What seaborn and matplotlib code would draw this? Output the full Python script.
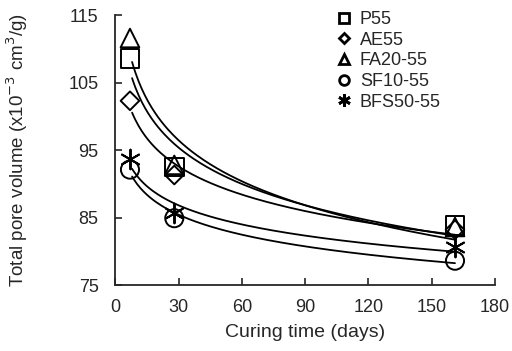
import numpy as np
import pandas as pd
import matplotlib
matplotlib.use("Agg")
import matplotlib.pyplot as plt
import seaborn as sns
from matplotlib.lines import Line2D

days = [7, 28, 161]
series = ["P55", "AE55", "FA20-55", "SF10-55", "BFS50-55"]
p55 = [108.6, 92.5, 83.8]
ae55 = [102.3, 91.3, 83.2]
fa20 = [111.6, 92.8, 83.6]
sf10 = [92.1, 84.9, 78.6]
bfs50 = [93.6, 85.6, 80.6]
values = [p55, ae55, fa20, sf10, bfs50]
markers = ["s", "D", "^", "o", (6, 2, 0)]
sizes = [180, 90, 180, 170, 200]
xticks = [0, 30, 60, 90, 120, 150, 180]
yticks = [75, 85, 95, 105, 115]

sns.set_style("ticks")
plt.rcParams["font.family"] = ["Liberation Sans", "DejaVu Sans"]

fig = plt.figure(figsize=(5.12, 3.51), dpi=100)
ax = fig.add_axes([0.225, 0.188, 0.742, 0.769])

handles = []
for name, vals, m, s in zip(series, values, markers, sizes):
    df = pd.DataFrame({"day": days, "v": vals})
    # logarithmic fit through the data
    b, a = np.polyfit(np.log(df["day"]), df["v"], 1)
    xs = np.linspace(days[0] + 1, days[-1], 200)
    fit = pd.DataFrame({"day": xs, "v": a + b * np.log(xs)})
    sns.lineplot(data=fit, x="day", y="v", ax=ax, color="black", lw=1.3)
    if isinstance(m, tuple):
        sns.scatterplot(data=df, x="day", y="v", ax=ax, marker=m, s=s,
                        color="black", linewidth=1.4, zorder=3)
        handles.append(Line2D([], [], marker=m, color="black", ls="none",
                              markersize=9, markeredgewidth=2, label=name))
    else:
        sns.scatterplot(data=df, x="day", y="v", ax=ax, marker=m, s=s,
                        facecolor="none", edgecolor="black", linewidth=1.4, zorder=3)
        handles.append(Line2D([], [], marker=m, color="black", ls="none",
                              markerfacecolor="none", markersize=7 if m != "D" else 5.5,
                              markeredgewidth=2, label=name))

ax.set_xlim(0, 180)
ax.set_ylim(75, 115)
ax.set_xticks(xticks)
ax.set_yticks(yticks)
ax.tick_params(direction="in", length=5, width=1.2, labelsize=13)
ax.tick_params(axis="x", pad=10)
ax.tick_params(axis="y", pad=12)
sns.despine(ax=ax)
for sp in ["left", "bottom"]:
    ax.spines[sp].set_linewidth(1.3)
ax.set_xlabel("Curing time (days)", fontsize=14, labelpad=6)
ax.set_ylabel("Total pore volume (x10$^{-3}$ cm$^3$/g)", fontsize=13.5, labelpad=28)
ax.legend(handles=handles, loc="upper left", bbox_to_anchor=(0.53, 1.075),
          frameon=False, fontsize=13, handletextpad=0.3, labelspacing=0.2,
          handlelength=1.2)

fig.savefig("out.png", dpi=100)
